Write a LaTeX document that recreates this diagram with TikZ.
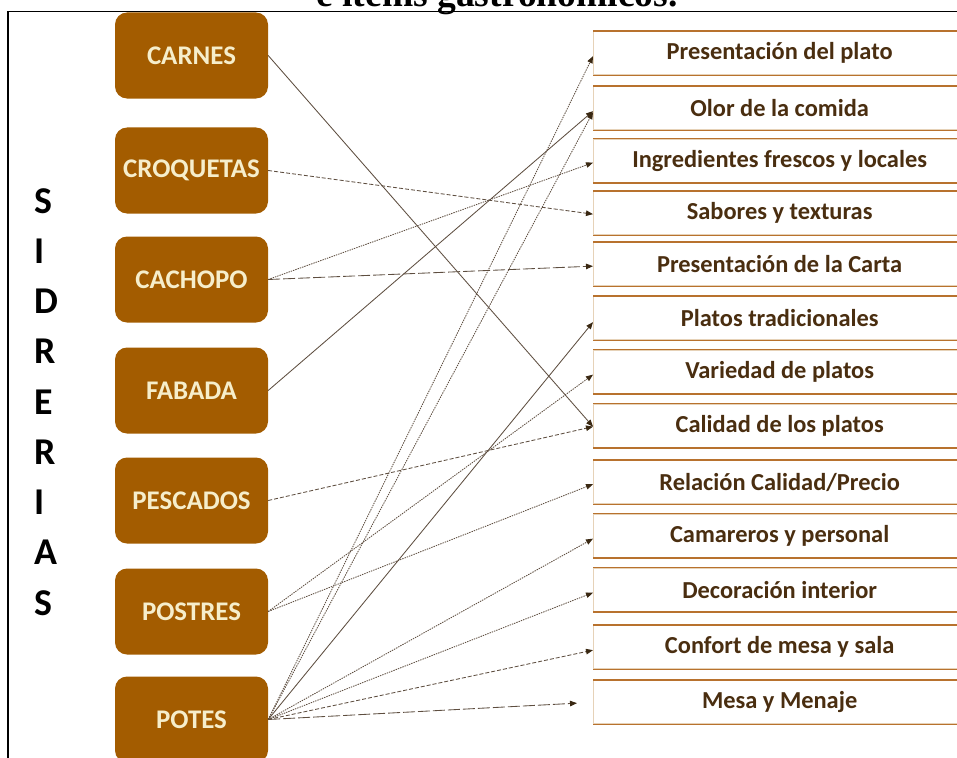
\documentclass[tikz,border=0pt]{standalone}
\usepackage{fontspec}
\setmainfont{Carlito}
\newfontfamily\titlefont{Liberation Serif}
\usetikzlibrary{arrows.meta}
\definecolor{boxbrown}{HTML}{A35C00}
\definecolor{cream}{HTML}{F6EECB}
\definecolor{rbrown}{HTML}{B8722E}
\definecolor{rtan}{HTML}{E6D2B8}
\definecolor{rtext}{HTML}{4A2E10}
\definecolor{conn}{HTML}{5E4E40}
\definecolor{tipc}{HTML}{3A2812}
\begin{document}
\begin{tikzpicture}[x=1bp,y=-1bp,
  lbox/.style={fill=boxbrown, rounded corners=12bp, minimum width=153bp, minimum height=86bp,
    inner sep=0pt, text=cream, font=\bfseries\fontsize{27}{30}\selectfont},
  rbox/.style={fill=white, draw=rtan, line width=1.3bp, minimum width=372bp, minimum height=43bp,
    anchor=north west, inner sep=0pt, text=rtext, font=\bfseries\fontsize{24.5}{27}\selectfont},
  rbord/.style={draw=rbrown, line width=1.6bp},
  sletter/.style={anchor=base west, inner sep=0pt, font=\bfseries\fontsize{38}{40}\selectfont},
  frame/.style={draw=black, line width=1.5bp},
  conn/.style={draw=conn, line width=0.85bp, -{Triangle[length=7bp,width=5.5bp,color=tipc]}},
  solidc/.style={conn},
  dotc/.style={conn, dash pattern=on 1.4bp off 1bp},
  dashc/.style={conn, dash pattern=on 4bp off 2bp},
  longc/.style={conn, dash pattern=on 12bp off 3bp},
]
\useasboundingbox (0,0) rectangle (957,758);

% title (cut by page edge, as in the reference)
\node[anchor=base, inner sep=0pt, font=\titlefont\bfseries\fontsize{37.7}{40}\selectfont] (title) at (497,7) {e items gastronómicos.};

% frame
\coordinate (fc) at (8,11.5);
\coordinate (fr) at (957,11.5);
\coordinate (fb) at (8,758);
\draw[frame] (fr) -- (fc) -- (fb);

% SIDRERIAS
\foreach \l [count=\i] in {S,I,D,R,E,R,I,A,S}
  \node[sletter] (s\i) at (34,{213+(\i-1)*50.25}) {\l};

% left boxes
\node[lbox] (carnes)    at (191.5,55.5)  {CARNES};
\node[lbox] (croquetas) at (191.5,170.5) {CROQUETAS};
\node[lbox] (cachopo)   at (191.5,279.5) {CACHOPO};
\node[lbox] (fabada)    at (191.5,390.5) {FABADA};
\node[lbox] (pescados)  at (191.5,500.5) {PESCADOS};
\node[lbox] (postres)   at (191.5,611.5) {POSTRES};
\node[lbox] (potes)     at (191.5,719.5) {POTES};

% right boxes
\node[rbox] (plato)         at (593,31)  {Presentación del plato};
\node[rbox] (olor)          at (593,86)  {Olor de la comida};
\node[rbox] (ingredientes)  at (593,138.5) {Ingredientes frescos y locales};
\node[rbox] (sabores)       at (593,191) {Sabores y texturas};
\node[rbox] (carta)         at (593,242) {Presentación de la Carta};
\node[rbox] (tradicionales) at (593,296) {Platos tradicionales};
\node[rbox] (variedad)      at (593,349.5) {Variedad de platos};
\node[rbox] (calidad)       at (593,403.5) {Calidad de los platos};
\node[rbox] (relacion)      at (593,460) {Relación Calidad/Precio};
\node[rbox] (camareros)     at (593,513.5) {Camareros y personal};
\node[rbox] (decoracion)    at (593,567.5) {Decoración interior};
\node[rbox] (confort)       at (593,625) {Confort de mesa y sala};
\node[rbox] (mesa)          at (593,680) {Mesa y Menaje};
\foreach \n in {plato,olor,ingredientes,sabores,carta,tradicionales,variedad,calidad,relacion,camareros,decoracion,confort,mesa}{
  \draw[rbord] (\n.north west) -- (\n.north east);
  \draw[rbord] (\n.south west) -- (\n.south east);
}

% connectors
\draw[solidc] (carnes.east) -- ([yshift=-1bp]calidad.west);
\draw[dashc] (croquetas.east) -- ([yshift=-1bp]sabores.west);
\draw[dotc] (cachopo.east) -- ([yshift=-2bp]ingredientes.west);
\draw[longc] (cachopo.east) -- ([yshift=-2bp]carta.west);
\draw[solidc] (fabada.east) -- ([yshift=-3bp]olor.west);
\draw[dashc] (pescados.east) -- ([yshift=-1bp]calidad.west);
\draw[dotc] (postres.east) -- ([yshift=-3bp]variedad.west);
\draw[dotc] (postres.east) -- ([yshift=-2bp]relacion.west);
\draw[dotc] (potes.east) -- ([yshift=-3bp]plato.west);
\draw[dotc] (potes.east) -- ([yshift=-4bp]olor.west);
\draw[solidc] (potes.east) -- ([yshift=-4bp]tradicionales.west);
\draw[dotc] (potes.east) -- ([yshift=-3bp]camareros.west);
\draw[dotc] (potes.east) -- ([yshift=-3bp]decoracion.west);
\draw[dashc] (potes.east) -- ([yshift=-3bp]confort.west);
\draw[longc] (potes.east) -- ([xshift=-16bp,yshift=-1bp]mesa.west);
\end{tikzpicture}
\end{document}
